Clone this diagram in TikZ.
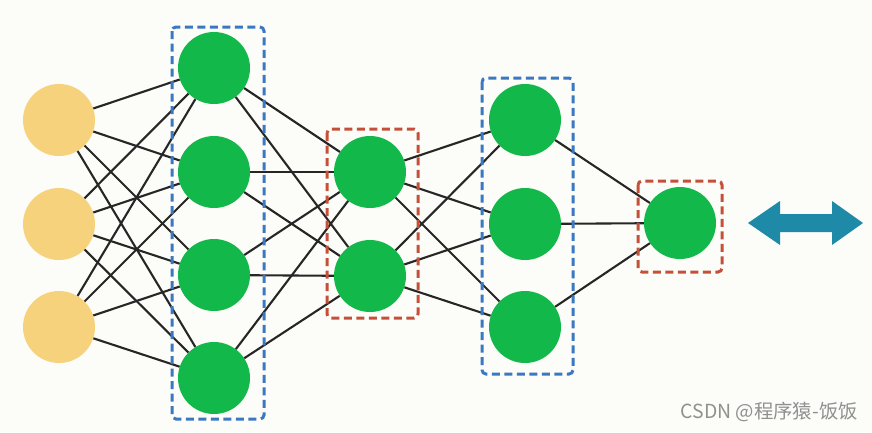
\documentclass[tikz,border=0pt]{standalone}
\usepackage{fontspec}
\newfontfamily\cjk{Noto Sans CJK SC}
\definecolor{bgc}{HTML}{FCFCF9}
\definecolor{inc}{HTML}{F6D27C}
\definecolor{grn}{HTML}{12B94A}
\definecolor{bluebox}{HTML}{3B78C2}
\definecolor{redbox}{HTML}{C4503A}
\definecolor{teal}{HTML}{1F8AA8}
\definecolor{wm}{HTML}{909090}
\begin{document}
\begin{tikzpicture}[x=1pt,y=-1pt,
  neuron/.style={circle,minimum size=72pt,inner sep=0pt},
  inneuron/.style={neuron,fill=inc},
  hidneuron/.style={neuron,fill=grn},
  link/.style={line width=2.1pt,black!85},
  bluegroup/.style={draw=bluebox,line width=3pt,dash pattern=on 8pt off 4.5pt,rounded corners=4pt},
  redgroup/.style={draw=redbox,line width=3pt,dash pattern=on 8pt off 4.5pt,rounded corners=4pt}]
\fill[bgc] (0,0) rectangle (872,432);
\useasboundingbox (0,0) rectangle (872,432);
% nodes
\node[inneuron] (i1) at (59,120) {};
\node[inneuron] (i2) at (59,224) {};
\node[inneuron] (i3) at (59,327) {};
\node[hidneuron] (a1) at (214,68) {};
\node[hidneuron] (a2) at (214,172) {};
\node[hidneuron] (a3) at (214,275) {};
\node[hidneuron] (a4) at (214,378) {};
\node[hidneuron] (b1) at (370,172) {};
\node[hidneuron] (b2) at (370,276) {};
\node[hidneuron] (c1) at (525,120) {};
\node[hidneuron] (c2) at (525,224) {};
\node[hidneuron] (c3) at (525,327) {};
\node[hidneuron] (o1) at (680,223) {};
% links
\foreach \s in {i1,i2,i3}{\foreach \t in {a1,a2,a3,a4}{\draw[link] (\s) -- (\t);}}
\foreach \s in {a1,a2,a3,a4}{\foreach \t in {b1,b2}{\draw[link] (\s) -- (\t);}}
\foreach \s in {b1,b2}{\foreach \t in {c1,c2,c3}{\draw[link] (\s) -- (\t);}}
\foreach \s in {c1,c2,c3}{\draw[link] (\s) -- (o1);}
% group boxes
\draw[bluegroup] (172,27) rectangle (264,419);
\draw[redgroup] (327,129) rectangle (418,318);
\draw[bluegroup] (482,78) rectangle (573,374);
\draw[redgroup] (638,181) rectangle (722,272);
% double arrow
\fill[teal] (748,223) -- (780,201) -- (780,214) -- (832,214) -- (832,201) -- (863,223)
  -- (832,245) -- (832,232) -- (780,232) -- (780,245) -- cycle;
% watermark
\node[text=wm,font=\cjk\fontsize{19.4}{19.4}\selectfont,anchor=east,inner sep=0pt] (wmk) at (858,412) {CSDN @程序猿-饭饭};
\end{tikzpicture}
\end{document}
